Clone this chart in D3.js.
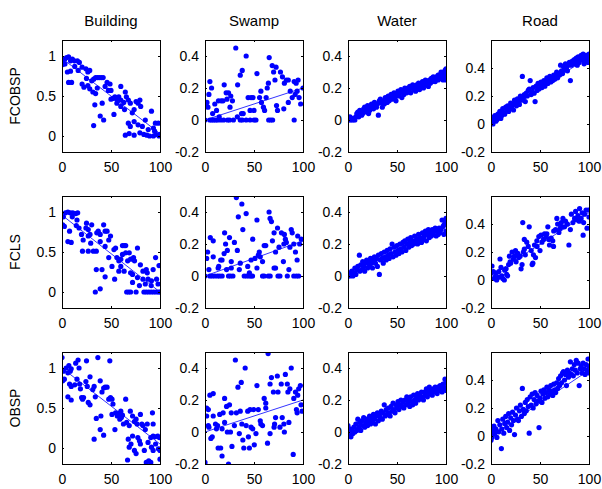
<!DOCTYPE html>
<html><head><meta charset="utf-8">
<script src="https://cdn.jsdelivr.net/npm/d3@7"></script>
<style>body{margin:0;background:#fff}svg{display:block}text{font-family:"Liberation Sans",Arial,sans-serif;fill:#000}</style>
</head><body><svg id="chart" width="602" height="489"></svg>
<script>
const classes = ["Building","Swamp","Water","Road"];
const methods = ["FCOBSP","FCLS","OBSP"];
const xTicks = [0,50,100];
const yDomains = [[-0.2,1.2],[-0.2,0.5],[-0.2,0.5],[-0.2,0.6]];
const yTicks = [[0,0.5,1],[-0.2,0,0.2,0.4],[-0.2,0,0.2,0.4],[-0.2,0,0.2,0.4]];
const yTickLabels = [["0","0.5","1"],["-0.2","0","0.2","0.4"],["-0.2","0","0.2","0.4"],["-0.2","0","0.2","0.4"]];
// fitted line values at x=0 and x=100, per method row and class column
const fitStart = [[0.97,0.0,0.0,0.02],[0.96,0.0,0.0,0.03],[1.0,0.0,0.0,0.0]];
const fitEnd   = [[0.03,0.2,0.3,0.48],[0.0,0.22,0.32,0.48],[0.05,0.2,0.3,0.47]];

const fcobspBuilding = [[0.8,0.92],[2.8,0.96],[4.7,0.98],[6.7,0.99],[8.7,0.94],[10.6,0.96],[12.6,0.94],[15.7,0.94],[17.7,0.92],[0,0.89],[1.5,0.9],[5.5,0.8],[8.7,0.81],[6.7,0.67],[9.8,0.67],[16.5,0.82],[20.5,0.86],[24.4,0.84],[26.4,0.8],[28.3,0.82],[20.5,0.65],[22.4,0.61],[26.4,0.63],[28.3,0.59],[30.3,0.69],[32.3,0.71],[34.3,0.73],[36.2,0.73],[38,0.73],[40,0.73],[42,0.73],[31.5,0.55],[34.3,0.53],[33.5,0.39],[41,0.41],[39,0.25],[42.5,0.2],[32.3,0.13],[46,0.67],[49,0.65],[47.3,0.57],[50,0.57],[52,0.47],[50,0.46],[54,0.49],[56,0.46],[57.9,0.49],[60,0.45],[56,0.41],[60,0.37],[53,0.27],[63,0.42],[64.6,0.55],[65.7,0.49],[63.8,0.33],[67.7,0.45],[69.7,0.41],[73.6,0.33],[75.6,0.43],[77.6,0.41],[79.5,0.45],[80.3,0.37],[71.7,0.29],[67.7,0.16],[69.7,0.12],[73.6,0.18],[77.6,0.14],[64.6,0.01],[68.5,0.03],[73.6,0.01],[79.5,0.04],[83.5,0.02],[86.6,0.01],[89.4,0],[91.3,0.31],[93.3,0.1],[94.5,0.06],[95.3,0.16],[98.4,0.16],[93.3,0],[96,0.02],[99,0],[100,0.02],[82,0.12],[88,0.08],[85,0.2],[60,0.62],[44,0.62],[36,0.6],[25,0.72],[13,0.87],[3,0.9]];
const fcobspSwamp = [[0,0],[2,0.11],[3,0.08],[5,0.24],[6.7,0.2],[7.8,0.04],[5,0],[7,0],[9,0],[11,0],[13,0],[16,0],[19,0],[11.8,0.06],[14.5,0.02],[13.7,0.12],[16.5,0.12],[18.4,0.12],[19.6,0.22],[21.6,0.17],[24,0.17],[22.4,0.13],[26.3,0.15],[28,0.12],[23,0],[25,0],[29,0],[25.5,0.08],[31.4,0.45],[33.3,0.22],[36,0.28],[38,0.31],[37.3,0.04],[39,0.04],[36,0],[38,0],[42,0],[46,0],[50,0],[52,0],[42,0.4],[44,0.14],[46,0.06],[49,0.14],[50,0.06],[53,0.29],[55.7,0.14],[57.6,0.11],[59.6,0.08],[60.8,0.06],[62.4,0.14],[63.5,0.2],[64.7,0.23],[65,0],[67,0],[69,0],[65.5,0.39],[68.6,0.34],[70,0.3],[71.4,0.25],[72.5,0.33],[73,0.09],[74,0.06],[77,0.3],[79,0.27],[80.4,0.07],[81,0.23],[83,0.25],[85,0.25],[87,0.18],[89,0.14],[91,0],[91,0.24],[93,0.23],[95,0.25],[96,0.14],[97.6,0.1],[100,0.2],[94,0.18],[92,0.16],[1,0.09],[4,0.16],[10,0.1],[57,0.18],[47,0.14],[33,0.02],[85,0.11]];
const fcobspWater = [[0,0.01],[1,0],[2,0.02],[3,0],[4,0.01],[5,0],[6,0.01],[7,0],[8,0.02],[9,0.04],[10,0.05],[11,0.02],[12,0.06],[13,0.05],[14,0.03],[15,0.04],[16,0.07],[17,0.08],[18,0.05],[19,0.06],[20,0.09],[21,0.04],[22,0.06],[23,0.07],[24,0.1],[25,0.08],[26,0.07],[27,0.11],[28,0.09],[29,0.08],[30,0.1],[31,0.03],[32,0.12],[33,0.13],[34,0.11],[35,0.08],[36,0.12],[37,0.1],[38,0.14],[39,0.13],[40,0.11],[41,0.15],[42,0.12],[43,0.14],[44,0.16],[45,0.13],[46,0.15],[47,0.17],[48,0.14],[49,0.12],[50,0.16],[51,0.18],[52,0.15],[53,0.17],[54,0.19],[55,0.14],[56,0.18],[57,0.16],[58,0.2],[59,0.19],[60,0.17],[61,0.2],[62,0.18],[63,0.21],[64,0.17],[65,0.2],[66,0.22],[67,0.19],[68,0.21],[69,0.18],[70,0.22],[71,0.2],[72,0.23],[73,0.19],[74,0.22],[75,0.21],[76,0.24],[77,0.2],[78,0.23],[79,0.25],[80,0.22],[81,0.24],[82,0.21],[83,0.25],[84,0.23],[85,0.26],[86,0.24],[87,0.27],[88,0.25],[89,0.24],[90,0.27],[91,0.26],[92,0.25],[93,0.28],[94,0.26],[95,0.27],[96,0.29],[97,0.27],[98,0.3],[99,0.28],[100,0.32],[100,0.27],[100,0.25],[99,0.31],[97,0.25],[95,0.3],[92,0.28]];
const fcobspRoad = [[0,0.05],[0,0.01],[1,0.03],[2,0],[3,0.04],[4,0.06],[5,0.02],[6,0.03],[7,0.07],[8,0.05],[9,0.09],[10,0.04],[11,0.06],[12,0.11],[13,0.08],[14,0.07],[15,0.12],[16,0.1],[17,0.13],[18,0.09],[19,0.11],[20,0.15],[21,0.12],[22,0.14],[23,0.1],[24,0.17],[25,0.15],[26,0.13],[27,0.18],[28,0.16],[29,0.14],[30,0.2],[31,0.17],[32,0.34],[33,0.19],[34,0.21],[35,0.16],[36,0.22],[37,0.2],[38,0.24],[39,0.25],[40,0.31],[41,0.21],[42,0.23],[43,0.26],[44,0.22],[45,0.16],[46,0.27],[47,0.24],[48,0.29],[49,0.25],[50,0.28],[51,0.3],[52,0.26],[53,0.29],[54,0.31],[55,0.27],[56,0.3],[57,0.33],[58,0.29],[59,0.31],[60,0.34],[61,0.3],[62,0.33],[63,0.31],[64,0.35],[65,0.32],[66,0.34],[67,0.37],[68,0.33],[69,0.36],[70,0.35],[71,0.42],[72,0.38],[73,0.36],[74,0.41],[75,0.39],[76,0.43],[77,0.4],[78,0.38],[79,0.42],[80,0.44],[81,0.31],[82,0.42],[83,0.45],[84,0.43],[85,0.46],[86,0.44],[87,0.47],[88,0.45],[89,0.48],[90,0.44],[91,0.47],[92,0.49],[93,0.46],[94,0.5],[95,0.47],[96,0.45],[97,0.49],[98,0.47],[99,0.44],[100,0.5],[100,0.46],[95,0.43],[88,0.42]];

const fclsBuilding = [[1.4,0.94],[0.7,0.84],[2.4,0.82],[3.5,0.99],[6,1.0],[8.4,0.99],[11,0.99],[14,0.98],[16,0.99],[10.5,0.94],[15.3,0.9],[7.7,0.76],[6,0.63],[9.4,0.62],[14.6,0.83],[17.4,0.8],[19.9,0.72],[21.6,0.65],[20.9,0.51],[25,0.86],[24.4,0.8],[26.8,0.78],[26.8,0.7],[28.6,0.72],[30.3,0.84],[29.3,0.61],[26.8,0.51],[32,0.51],[35,0.51],[35.5,0.74],[37,0.76],[39,0.72],[42.5,0.84],[44,0.76],[46,0.76],[47.7,0.65],[49.5,0.7],[44,0.57],[39,0.63],[35,0.28],[40.8,0.28],[44,0.19],[39,0.04],[34,0],[47.7,0.43],[51,0.32],[53,0.53],[54.7,0.55],[53.7,0.16],[56,0.43],[58,0.39],[60,0.41],[61.7,0.58],[63.4,0.58],[65,0.58],[61.7,0.47],[65,0.49],[68.6,0.49],[67,0.39],[60,0.32],[58,0.26],[63.4,0.26],[70,0.41],[73,0.43],[77,0.55],[74,0.39],[80,0.34],[70,0.24],[72,0.22],[77,0.18],[79,0.08],[72,0.12],[82.6,0.26],[86,0.28],[87,0.24],[93,0.28],[95.5,0.43],[99,0.33],[82.6,0.16],[87.8,0.16],[91.3,0.14],[96.5,0.16],[85,0.1],[98,0.1],[66,0],[68,0],[70,0],[75.6,0],[83.6,0],[86,0],[88.5,0],[91,0],[93.5,0],[96,0],[98.5,0],[100,0],[91,0.08]];
const fclsSwamp = [[0,0],[1.7,0.11],[2.7,0.15],[4,0.04],[5.4,0.24],[8.4,0.22],[8.4,0.12],[5,0],[7.4,0],[10,0],[12.8,0],[15,0],[17.5,0],[13.4,0.05],[14,0.06],[16,0.1],[17.4,0.1],[19.5,0.14],[20,0.27],[21,0.2],[22.8,0.16],[25,0.24],[22,0.04],[24,0],[26,0],[28.5,0],[26.8,0.09],[26.8,0.05],[30,0.21],[32,0.49],[33,0.16],[34,0.37],[35,0.04],[36,0.08],[37.6,0.45],[38.6,0.29],[40,0],[42.5,0],[45,0],[47,0],[48.5,0],[42,0.39],[43.6,0.06],[45.3,0.02],[47,0.1],[48.7,0.23],[51,0.11],[53,0.35],[53,0.05],[54.4,0.13],[55.4,0.15],[56.4,0.12],[58.7,0],[60.4,0],[58.7,0.09],[60.4,0.19],[62,0.19],[64.5,0],[66.5,0],[65.4,0.4],[66.4,0.36],[67.8,0.34],[68.8,0.22],[70.5,0.05],[72,0.05],[70.5,0.27],[72,0.15],[74,0.3],[75.5,0.18],[74.5,0],[76.5,0],[78,0.27],[80,0.09],[80.5,0.2],[81,0.26],[82,0.23],[83,0.21],[84,0],[90.6,0],[93.3,0],[85.6,0.04],[86.6,0.18],[88,0.29],[89,0.27],[90.6,0.2],[92.3,0.15],[94,0.1],[94.6,0.25],[96.6,0.2],[98.3,0.23],[95.6,0]];
const fclsWater = [[0,0],[1,0.02],[2,0],[3,0.01],[4,0.03],[5,0],[6,0.02],[7,0.05],[8,0.01],[9,0.04],[10,0.06],[11.6,0.13],[12,0.03],[13,0.07],[14,0.04],[15,0.09],[16,0.06],[17,0.03],[18,0.08],[19,0.1],[20,0.05],[21,0.09],[22,0.07],[23,0.11],[24,0.08],[25,0.05],[26,0.1],[27,0.12],[28,0.08],[29,0.11],[30,0.06],[31,0.13],[32,0.01],[33,0.1],[34,0.14],[35,0.11],[36,0.08],[37,0.15],[38,0.12],[39,0.1],[40,0.16],[41,0.13],[42,0.11],[43,0.17],[44,0.14],[45,0.2],[46,0.12],[47,0.18],[48,0.15],[49,0.13],[50,0.19],[51,0.16],[52,0.14],[53,0.2],[54,0.17],[55,0.15],[56,0.21],[57,0.18],[58,0.22],[59,0.16],[60,0.2],[61,0.23],[62,0.18],[63,0.21],[64,0.24],[65,0.19],[66,0.22],[67,0.2],[68,0.25],[69,0.21],[70,0.23],[71,0.2],[72,0.26],[73,0.22],[74,0.24],[75,0.21],[76,0.27],[77,0.23],[78,0.25],[79,0.28],[80,0.22],[81,0.26],[82,0.29],[83,0.24],[84,0.27],[85,0.25],[86,0.29],[87,0.26],[88,0.28],[89,0.3],[90,0.25],[91,0.28],[92,0.26],[93,0.3],[94,0.27],[95,0.29],[96,0.35],[97,0.31],[98,0.26],[99,0.34],[100,0.36],[100,0.28],[98,0.32]];
const fclsRoad = [[1,0.1],[2.4,0.06],[3.4,0.01],[5,0.05],[5.8,0],[7.8,0.02],[9.2,0.15],[10.2,0.09],[12,0.01],[13.6,0],[15.4,0.08],[16,0.04],[17,0.03],[18,0.11],[18.8,0.17],[19.5,0.13],[21.5,0.2],[22.9,0.15],[23.9,0.17],[25,0.21],[25.6,0.13],[27.3,0.19],[28.3,0.16],[29.7,0.17],[30.7,0.08],[31.7,0.11],[32.4,0.41],[34,0.22],[34,0.29],[35,0.18],[36.5,0.27],[39,0.38],[41,0.21],[42,0.11],[42.7,0.12],[43.3,0.18],[44.4,0.25],[45.4,0.16],[46.8,0.28],[48.8,0.31],[50,0.21],[51,0.32],[52,0.27],[53.6,0.29],[54.6,0.33],[56.3,0.31],[58,0.38],[59,0.29],[59.7,0.25],[61.4,0.3],[63,0.28],[63.8,0.24],[65.9,0.36],[67.2,0.44],[68,0.4],[69.3,0.34],[70.6,0.37],[71.7,0.41],[73.4,0.44],[75,0.38],[76,0.42],[79.5,0.25],[81,0.36],[82,0.47],[83.6,0.41],[85.3,0.44],[86.3,0.49],[87.7,0.43],[88.7,0.46],[90.4,0.51],[92,0.44],[93,0.48],[94,0.32],[95.5,0.47],[97,0.5],[98,0.37],[99.3,0.5],[94.5,0.41],[0,0.05],[4,0.02],[8,0.06],[11,0.03],[14,0.07],[20,0.12],[26,0.18],[33,0.2],[38,0.24],[47,0.24],[57,0.33],[64,0.35],[72,0.38],[78,0.4],[90,0.42],[100,0.45]];

const obspBuilding = [[0,1.13],[1.4,0.96],[2.4,0.86],[0.7,0.84],[4.2,1.0],[6,0.94],[7,1.03],[8.4,0.96],[9.4,0.99],[7.7,0.8],[9.4,0.77],[6,0.64],[9.4,0.6],[13,0.79],[14,1.06],[16.4,1.1],[17.4,1.0],[15.3,0.86],[18,0.8],[18.8,0.74],[21,0.61],[20,0.63],[22,0.63],[25,1.09],[24.4,0.83],[25.8,0.77],[28.6,0.89],[26.8,0.57],[28.6,0.54],[31.4,0.73],[32.8,0.77],[34,0.64],[35,0.37],[36.6,1.13],[39,0.84],[39.7,0.4],[40.8,0.7],[42.5,0.75],[44,0.76],[46,0.76],[47.7,0.61],[48.8,1.09],[49.5,0.63],[51,0.61],[52,0.55],[39,0.23],[42.5,0.16],[32.8,0.11],[54,0.23],[51,0.42],[54.7,0.44],[56.4,0.4],[58,0.43],[60,0.46],[60.6,0.38],[59,0.36],[61.7,0.41],[62.7,0.3],[65,0.61],[66,0.32],[68.6,0.28],[69.7,0.46],[72,0.4],[73.9,0.33],[75.6,0.36],[76.7,0.3],[80,0.42],[81.5,0.3],[82.6,0.28],[85,0.23],[87,0.3],[92.3,0.44],[93,0.3],[67.6,0.11],[70.4,0.05],[72,0.15],[77.4,0.13],[79,0.09],[80,0.05],[68.6,0.01],[73.9,-0.03],[75.6,-0.07],[66.9,-0.15],[84,-0.03],[86,-0.18],[88.5,-0.16],[90.6,-0.18],[87.8,0.07],[90.6,0.13],[93,0.15],[94.8,0.14],[97.6,0.15],[99.3,0.13],[95.5,0.05],[98.4,-0.01],[100,-0.03],[93,-0.03],[100,-0.14],[91.3,0.01]];
const obspSwamp = [[0,-0.19],[1.7,0.15],[3.4,0.14],[1.7,0.1],[3.4,0.04],[5,0.23],[8.4,0.24],[6,-0.04],[7.4,-0.03],[8.4,0.1],[10.7,0.05],[12.8,0.04],[11.7,0.02],[13.4,-0.1],[16,-0.1],[15,0.11],[17.4,-0.15],[17.4,0.02],[18.5,0.12],[20,0.21],[22,0.16],[22.8,0],[24,-0.2],[25,0.17],[26,0],[26.8,0.12],[27.5,-0.09],[30,0.04],[31,0.45],[32,0.12],[33.6,0.28],[35,-0.01],[37,0.31],[37.6,0.05],[38.6,-0.05],[39.6,-0.1],[41,0.4],[42,0.04],[43.6,0.13],[44.3,-0.03],[45.3,-0.1],[47,0.03],[48.7,0.02],[49.7,0.14],[50.3,-0.08],[52,-0.01],[53,0.29],[54.4,0.14],[56.4,0.07],[57,0.05],[58.7,0.04],[60.4,0.21],[62,0.18],[62,0.15],[63.8,-0.07],[64.4,0.49],[66.4,-0.01],[66.4,0.3],[67.8,0.34],[69.8,0.25],[70.5,0.03],[71,0.05],[72,0.09],[73.8,0.35],[74.5,0.25],[76.5,0.03],[77.8,0.3],[78.8,0.09],[80.5,0.05],[81,0],[82,0.36],[84,0.3],[84.6,0.25],[85.6,0.06],[86.6,0.27],[88,0.4],[90,-0.14],[90.6,0.21],[92.3,0.25],[93.3,0.14],[94,0.12],[94.6,0.23],[95.6,0.27],[97.3,0.29],[99,0.13],[98,0.17],[4,0.03],[20,0.06],[46,0.14],[36,0.13]];
const obspWater = [[0,0.04],[0,0],[1,-0.02],[2,0.02],[3,-0.03],[4,0.01],[5,-0.01],[6,0.03],[7,0],[8,0.05],[9,0.01],[10,0.08],[11,0.03],[12,0.06],[13,0.01],[14,0.07],[15,0.04],[16,0.09],[17,0.03],[18,0.06],[19,0.08],[20,0.04],[21,0.07],[22,0.1],[23,0.05],[24,0.09],[25,0.06],[26,0.11],[27,0.08],[28,0.05],[29,0.1],[30,0.12],[31,0.07],[32,0.11],[33,0.09],[34,0.13],[35,0.08],[36,0.12],[37,0.17],[38,0.1],[39,0.14],[40,0.11],[41,0.15],[42,0.12],[43,0.1],[44,0.16],[45,0.13],[46,0.18],[47,0.14],[48,0.12],[49,0.17],[50,0.15],[51,0.19],[52,0.14],[53,0.17],[54,0.2],[55,0.16],[56,0.19],[57,0.15],[58,0.2],[59,0.17],[60,0.22],[61,0.18],[62,0.2],[63,0.16],[64,0.22],[65,0.19],[66,0.17],[67,0.23],[68,0.2],[69,0.18],[70,0.22],[71,0.24],[72,0.2],[73,0.23],[74,0.21],[75,0.25],[76,0.22],[77,0.2],[78,0.25],[79,0.23],[80,0.27],[81,0.22],[82,0.25],[83,0.28],[84,0.24],[85,0.26],[86,0.23],[87,0.27],[88,0.25],[89,0.28],[90,0.26],[91,0.24],[92,0.28],[93,0.26],[94,0.29],[95,0.27],[96,0.25],[97,0.3],[98,0.28],[99,0.33],[100,0.31],[100,0.26],[97,0.27]];
const obspRoad = [[0,-0.03],[0.8,-0.01],[1,0.04],[2,0.01],[3,0.07],[4,0.02],[5,0.05],[6,-0.01],[7,0.11],[8,0.03],[9,0.08],[10.6,-0.09],[11,0.05],[12,0.12],[13,0.02],[14,0.09],[15,0.14],[16,0.06],[17,0.1],[18,0.16],[19,0.04],[20,0.13],[21,0.08],[22,0.17],[23,0.11],[24,0.01],[25,0.15],[26,0.2],[27,0.12],[28,0.11],[29,0.18],[30,0.22],[31,0.14],[32,0.34],[33,0.19],[34,0.16],[35,0.24],[36,0.18],[37,0.26],[38,0.21],[39,0.02],[40,0.28],[41,0.22],[42,0.3],[43,0.2],[44,0.26],[45,0.31],[46,0.23],[47,0.29],[48,0.25],[49,0.06],[50,0.27],[51,0.32],[52,0.24],[53,0.3],[54,0.33],[55,0.27],[56,0.31],[57,0.35],[58,0.28],[59,0.33],[60,0.3],[61,0.36],[62,0.32],[63,0.29],[64,0.37],[65,0.33],[66,0.31],[67,0.38],[68,0.34],[69,0.41],[70,0.36],[71,0.43],[72,0.38],[73,0.45],[74,0.46],[75,0.4],[76,0.44],[77,0.36],[78,0.47],[79,0.42],[80,0.45],[81,0.53],[82,0.44],[83,0.48],[84,0.43],[85,0.51],[86,0.47],[87,0.54],[88,0.45],[89,0.52],[90,0.36],[91,0.48],[92,0.5],[93,0.45],[94,0.52],[95,0.48],[96,0.44],[97,0.51],[98,0.47],[99,0.55],[100,0.5],[100,0.45]];

const panelData = [
  [fcobspBuilding, fcobspSwamp, fcobspWater, fcobspRoad],
  [fclsBuilding, fclsSwamp, fclsWater, fclsRoad],
  [obspBuilding, obspSwamp, obspWater, obspRoad]
];

const svg = d3.select("#chart");
const colsX = [62, 205, 348, 491], rowsY = [40, 196, 352], W = 98, H = 112;
const blue = "#0000ff";

methods.forEach((m, r) => {
  svg.append("text").attr("transform", `translate(20,${rowsY[r] + H / 2}) rotate(-90)`)
    .attr("text-anchor", "middle").style("font-size", "14px").text(m);
  classes.forEach((c, ci) => {
    const g = svg.append("g").attr("transform", `translate(${colsX[ci]},${rowsY[r]})`);
    const x = d3.scaleLinear().domain([0, 100]).range([0, W]);
    const y = d3.scaleLinear().domain(yDomains[ci]).range([H, 0]);
    const cid = `clip-${r}-${ci}`;
    g.append("clipPath").attr("id", cid).append("rect").attr("width", W).attr("height", H);
    const inner = g.append("g").attr("clip-path", `url(#${cid})`);
    inner.selectAll("circle").data(panelData[r][ci]).join("circle")
      .attr("cx", d => x(d[0])).attr("cy", d => y(d[1])).attr("r", 2.6).attr("fill", blue);
    inner.append("line").attr("x1", x(0)).attr("y1", y(fitStart[r][ci]))
      .attr("x2", x(100)).attr("y2", y(fitEnd[r][ci])).attr("stroke", blue).attr("stroke-width", 0.8);
    const fmt = d => yTickLabels[ci][yTicks[ci].indexOf(d)];
    const ax = [
      d3.axisBottom(x).tickValues(xTicks).tickSizeInner(-2).tickSizeOuter(0).tickPadding(10).tickFormat(d3.format("d")),
      d3.axisLeft(y).tickValues(yTicks[ci]).tickSizeInner(-2).tickSizeOuter(0).tickPadding(6).tickFormat(fmt),
      d3.axisTop(x).tickValues(xTicks).tickSizeInner(-2).tickSizeOuter(0).tickFormat(""),
      d3.axisRight(y).tickValues(yTicks[ci]).tickSizeInner(-2).tickSizeOuter(0).tickFormat("")
    ];
    const pos = [[0, H], [0, 0], [0, 0], [W, 0]];
    ax.forEach((a, i) => {
      const ag = g.append("g").attr("transform", `translate(${pos[i][0]},${pos[i][1]})`).call(a);
      ag.select(".domain").remove();
      ag.selectAll("text").style("font-size", "14px").style("font-family", '"Liberation Sans",Arial,sans-serif').attr("fill", "#000");
      ag.selectAll("line").attr("stroke", "#000");
    });
    g.append("rect").attr("width", W).attr("height", H).attr("fill", "none").attr("stroke", "#000").attr("stroke-width", 1)
      .attr("shape-rendering", "crispEdges");
    if (r === 0) {
      g.append("text").attr("x", W / 2).attr("y", -14).attr("text-anchor", "middle").style("font-size", "15px").text(c);
    }
  });
});
</script></body></html>
